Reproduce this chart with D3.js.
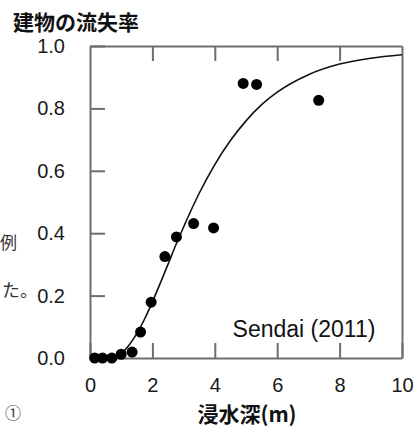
<!DOCTYPE html>
<html><head><meta charset="utf-8">
<script src="https://cdn.jsdelivr.net/npm/d3@7"></script>
<style>html,body{margin:0;padding:0;background:#fff;}svg{display:block;}</style>
</head><body>
<svg id="c" width="418" height="427"></svg>
<script>
// Observed data points (inundation depth m, washed-away ratio)
const depths = [0.15, 0.4, 0.7, 1.0, 1.35, 1.62, 1.96, 2.4, 2.77, 3.32, 3.96, 4.91, 5.34, 7.33];
const ratios = [0.0, 0.0, 0.0, 0.012, 0.019, 0.083, 0.179, 0.325, 0.388, 0.431, 0.417, 0.880, 0.877, 0.826];
// Fragility curve
const curveX = [1.05, 1.25, 1.5, 1.75, 2.0, 2.25, 2.5, 2.75, 3.0, 3.5, 4.0, 4.5, 5.0, 5.5, 6.0, 7.0, 8.0, 9.0, 10.0];
const curveY = [0.018, 0.041, 0.078, 0.125, 0.180, 0.239, 0.300, 0.362, 0.420, 0.528, 0.620, 0.697, 0.760, 0.812, 0.852, 0.908, 0.942, 0.961, 0.972];
const xTicks = [0, 2, 4, 6, 8, 10];
const yTicks = [0.0, 0.2, 0.4, 0.6, 0.8, 1.0];
const yTitle = "建物の流失率";
const xTitle = "浸水深(m)";
const label = "Sendai (2011)";

const svg = d3.select("#c");
const x = d3.scaleLinear().domain([0, 10]).range([90, 402]);
const y = d3.scaleLinear().domain([0, 1]).range([358, 46]);
const axisColor = "#6e6e6e";
const num = "'Liberation Sans', Arial, sans-serif";
const cjk = "'Noto Sans CJK JP', sans-serif";

// stray text from surrounding document
svg.append("text").attr("x", 0).attr("y", 249).attr("font-family", cjk).attr("font-size", 17).attr("fill", "#333").text("例");
svg.append("text").attr("x", 2).attr("y", 297).attr("font-family", cjk).attr("font-size", 18).attr("fill", "#333").text("た。");
svg.append("text").attr("x", 5).attr("y", 419).attr("font-family", cjk).attr("font-size", 16).attr("fill", "#333").text("①");

// frame
const g = svg.append("g");
const xAxis = d3.axisBottom(x).tickValues(xTicks).tickSizeInner(-15).tickSizeOuter(0).tickPadding(30).tickFormat(d3.format("d"));
const gx = g.append("g").attr("transform", `translate(0,${y(0)})`).call(xAxis);
const yAxis = d3.axisLeft(y).tickValues(yTicks).tickSizeInner(-15).tickSizeOuter(0).tickPadding(25).tickFormat(d3.format(".1f"));
const gy = g.append("g").attr("transform", `translate(${x(0)},0)`).call(yAxis);
const topAxis = d3.axisTop(x).tickValues(xTicks.slice(1, -1)).tickSizeInner(-15).tickSizeOuter(0).tickFormat("");
const gt = g.append("g").attr("transform", `translate(0,${y(1)})`).call(topAxis);
const rightAxis = d3.axisRight(y).tickValues([]).tickSizeOuter(0);
const gr = g.append("g").attr("transform", `translate(${x(10)},0)`).call(rightAxis);

[gx, gy, gt, gr].forEach(a => {
  a.select(".domain").attr("stroke", axisColor).attr("stroke-width", 2);
  a.selectAll(".tick line").attr("stroke", axisColor).attr("stroke-width", 2);
  a.selectAll(".tick text").attr("fill", "#1a1a1a").attr("font-family", num).attr("font-size", 20);
});
gx.selectAll(".tick text").attr("dy", "0.2em");

// curve
svg.append("path")
  .datum(curveX.map((d, i) => [d, curveY[i]]))
  .attr("fill", "none").attr("stroke", "#111").attr("stroke-width", 1.6)
  .attr("d", d3.line().x(d => x(d[0])).y(d => y(d[1])).curve(d3.curveMonotoneX));

// points
svg.append("g").selectAll("circle")
  .data(depths.map((d, i) => [d, ratios[i]]))
  .join("circle")
  .attr("cx", d => x(d[0])).attr("cy", d => y(d[1])).attr("r", 5.5).attr("fill", "#000");

// titles
svg.append("text").attr("x", 13).attr("y", 30).attr("font-family", cjk).attr("font-weight", "bold")
  .attr("font-size", 21).attr("fill", "#111").text(yTitle);
svg.append("text").attr("x", 247).attr("y", 422).attr("text-anchor", "middle").attr("font-family", cjk)
  .attr("font-weight", "bold").attr("font-size", 21).attr("fill", "#111").text(xTitle);
svg.append("text").attr("x", 304).attr("y", 337).attr("text-anchor", "middle").attr("font-family", num)
  .attr("font-size", 23).attr("fill", "#111").text(label);
</script>
</body></html>
